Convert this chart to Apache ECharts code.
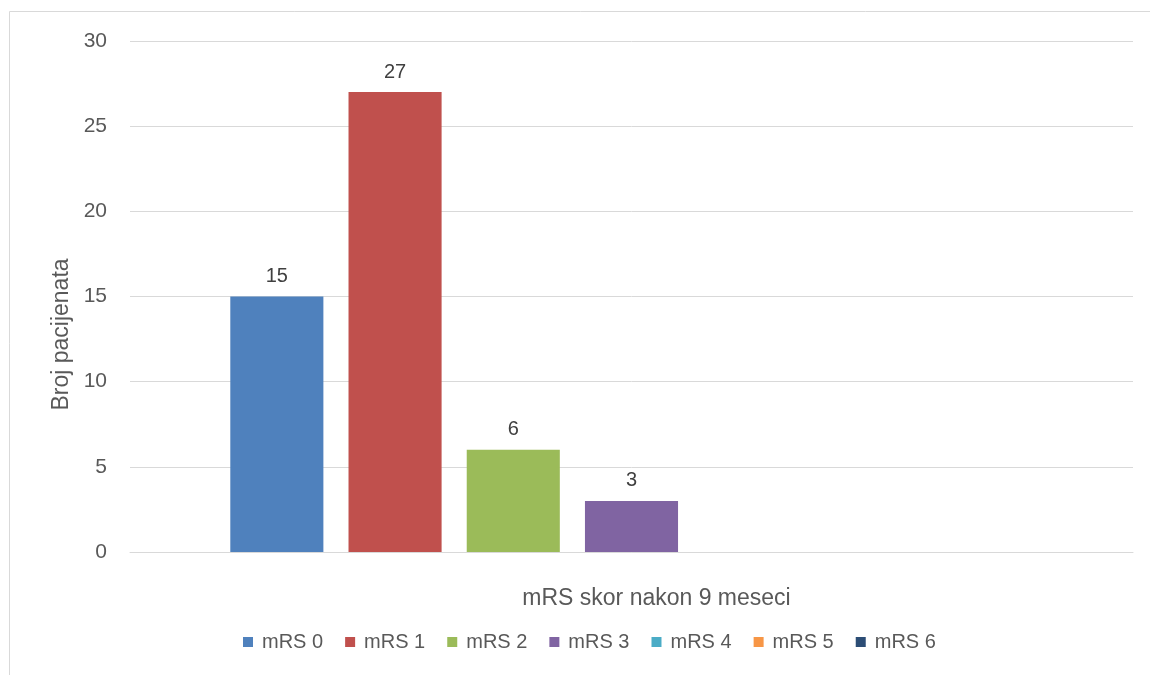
<!DOCTYPE html>
<html>
<head>
<meta charset="utf-8">
<script src="https://cdn.jsdelivr.net/npm/echarts@6/dist/echarts.min.js"></script>
<style>html,body{margin:0;padding:0;background:#fff;}#c{width:1150px;height:675px;}</style>
</head>
<body>
<div id="c"></div>
<script>
const categories = ['mRS skor nakon 9 meseci'];
const seriesNames = ['mRS 0','mRS 1','mRS 2','mRS 3','mRS 4','mRS 5','mRS 6'];
const seriesValues = [15, 27, 6, 3, 0, 0, 0];
const colors = ['#4F81BD','#C0504D','#9BBB59','#8064A2','#4BACC6','#F79646','#2C4D75'];
const yTicks = [0, 5, 10, 15, 20, 25, 30];
const yTitle = 'Broj pacijenata';

const FONT = 'Liberation Sans';
const chart = echarts.init(document.getElementById('c'));
chart.setOption({
  animation: false,
  textStyle: { fontFamily: FONT },
  graphic: [{
    type: 'rect', silent: true,
    shape: { x: 9.5, y: 11.5, width: 1300, height: 800 },
    style: { fill: 'none', stroke: '#D9D9D9', lineWidth: 1 }
  }],
  grid: { left: 130, right: 17, top: 41, bottom: 123, containLabel: false },
  legend: {
    left: 238, top: 627, itemWidth: 10, itemHeight: 10, itemGap: 22,
    icon: 'rect',
    textStyle: { fontSize: 20, color: '#595959', fontFamily: FONT, padding: [0, 0, 0, 4] },
    data: seriesNames
  },
  xAxis: {
    type: 'category', data: categories,
    axisLine: { show: true, lineStyle: { color: '#D9D9D9', width: 1 } },
    axisTick: { show: false },
    axisLabel: { fontSize: 23, color: '#595959', margin: 35, padding: [0, 0, 0, 50], fontFamily: FONT }
  },
  yAxis: {
    type: 'value', min: yTicks[0], max: yTicks[yTicks.length - 1], interval: 5,
    name: yTitle, nameLocation: 'middle', nameGap: 53, nameRotate: 90,
    nameTextStyle: { fontSize: 23, color: '#595959', fontFamily: FONT, padding: [0, 76, 0, 0] },
    axisLine: { show: false }, axisTick: { show: false },
    splitLine: { lineStyle: { color: '#D9D9D9', width: 1 } },
    axisLabel: { fontSize: 21, color: '#595959', margin: 23, fontFamily: FONT }
  },
  series: seriesNames.map((n, i) => ({
    name: n, type: 'bar', data: [seriesValues[i]],
    barGap: '27%', barCategoryGap: '20%',
    itemStyle: { color: colors[i] },
    label: {
      show: true, position: 'top', distance: 10, fontSize: 20, color: '#404040', fontFamily: FONT,
      formatter: p => (p.value === 0 ? '' : String(p.value))
    }
  }))
});
</script>
</body>
</html>
